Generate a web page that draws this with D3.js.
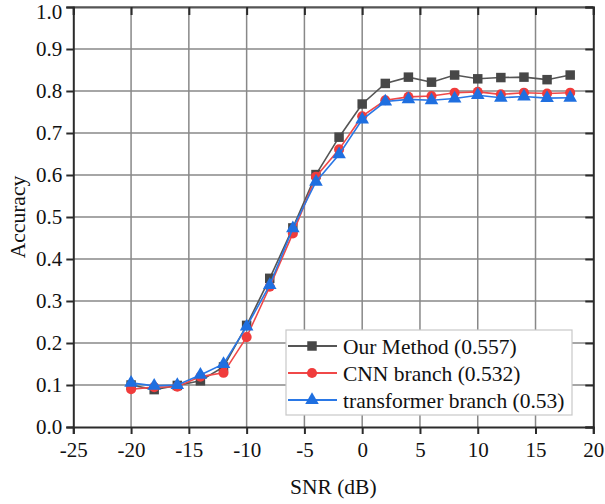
<!DOCTYPE html>
<html>
<head>
<meta charset="utf-8">
<script src="https://cdn.jsdelivr.net/npm/d3@7"></script>
<style>
  html, body { margin: 0; padding: 0; background: #fff; }
  svg { display: block; }
  text { font-family: "Liberation Serif", "Times New Roman", serif; fill: #111; }
</style>
</head>
<body>
<svg id="chart" width="605" height="504"></svg>
<script>
// SNR sweep (dB)
const snr = [-20, -18, -16, -14, -12, -10, -8, -6, -4, -2, 0, 2, 4, 6, 8, 10, 12, 14, 16, 18];

// Accuracy per SNR for each model
const ourMethod = [0.100, 0.089, 0.099, 0.110, 0.143, 0.242, 0.354, 0.474, 0.601, 0.690, 0.769, 0.818, 0.833, 0.821, 0.838, 0.829, 0.832, 0.833, 0.827, 0.838];
const cnnBranch = [0.090, 0.095, 0.096, 0.120, 0.129, 0.214, 0.334, 0.461, 0.596, 0.661, 0.740, 0.778, 0.786, 0.788, 0.796, 0.798, 0.792, 0.796, 0.794, 0.796];
const transBranch = [0.105, 0.098, 0.100, 0.124, 0.150, 0.239, 0.338, 0.473, 0.584, 0.649, 0.732, 0.775, 0.780, 0.778, 0.782, 0.790, 0.784, 0.787, 0.783, 0.784];

const seriesNames = ["Our Method (0.557)", "CNN branch (0.532)", "transformer branch (0.53)"];
const xTicks = [-25, -20, -15, -10, -5, 0, 5, 10, 15, 20];
const yTicks = [0.0, 0.1, 0.2, 0.3, 0.4, 0.5, 0.6, 0.7, 0.8, 0.9, 1.0];

const series = [
  { name: seriesNames[0], values: ourMethod, line: "#555555", fill: "#474747", shape: "square" },
  { name: seriesNames[1], values: cnnBranch, line: "#f04848", fill: "#f03c3c", shape: "circle" },
  { name: seriesNames[2], values: transBranch, line: "#2a78e6", fill: "#1f6fe0", shape: "triangle" }
];

const svg = d3.select("#chart");
const plotLeft = 73.3, plotRight = 593.3, plotTop = 7, plotBottom = 427;

const x = d3.scaleLinear().domain([-25, 20]).range([plotLeft, plotRight]);
const y = d3.scaleLinear().domain([0, 1]).range([plotBottom, plotTop]);

const fontSize = 21;
const serif = '"Liberation Serif", "Times New Roman", serif';

// grid
const grid = svg.append("g");
grid.selectAll("line.v").data(xTicks.slice(1, -1)).join("line")
  .attr("x1", d => x(d)).attr("x2", d => x(d))
  .attr("y1", plotTop).attr("y2", plotBottom)
  .attr("stroke", "#888").attr("stroke-width", 1.5);
grid.selectAll("line.h").data(yTicks.slice(1)).join("line")
  .attr("x1", plotLeft).attr("x2", plotRight)
  .attr("y1", d => y(d)).attr("y2", d => y(d))
  .attr("stroke", "#888").attr("stroke-width", 1.5);

// axes (plain hyphen for negative ticks)
const axisColor = "#2b2b2b";
const xFmt = d => String(d);
const yFmt = d => d.toFixed(1);
const xAxis = svg.append("g").attr("transform", `translate(0,${plotBottom})`)
  .call(d3.axisBottom(x).tickValues(xTicks).tickFormat(xFmt).tickSize(7).tickPadding(8));
const xAxisTop = svg.append("g").attr("transform", `translate(0,${plotTop})`)
  .call(d3.axisBottom(x).tickValues(xTicks).tickFormat("").tickSize(8));
const yAxis = svg.append("g").attr("transform", `translate(${plotLeft},0)`)
  .call(d3.axisLeft(y).tickValues(yTicks).tickFormat(yFmt).tickSize(7).tickPadding(4));
const yAxisRight = svg.append("g").attr("transform", `translate(${plotRight},0)`)
  .call(d3.axisLeft(y).tickValues(yTicks).tickFormat("").tickSize(8));

[xAxis, xAxisTop, yAxis, yAxisRight].forEach(g => {
  g.attr("font-family", serif).attr("font-size", fontSize);
  g.select(".domain").attr("stroke", axisColor).attr("stroke-width", 2);
  g.selectAll(".tick line").attr("stroke", axisColor).attr("stroke-width", 2);
  g.selectAll(".tick text").style("font-family", serif)
    .style("font-size", fontSize + "px").attr("fill", "#111");
});
xAxisTop.select(".domain").attr("stroke", "#555");
// keep the top label inside the page
yAxis.selectAll(".tick text").filter(d => d === 1).attr("dy", "0.56em");

// lines and markers
const line = d3.line().x((d, i) => x(snr[i])).y(d => y(d));
const marker = {
  square: d3.symbol().type(d3.symbolSquare).size(90),
  circle: d3.symbol().type(d3.symbolCircle).size(80),
  triangle: d3.symbol().type(d3.symbolTriangle).size(80)
};

series.forEach(s => {
  const g = svg.append("g");
  g.append("path").datum(s.values)
    .attr("d", line).attr("fill", "none")
    .attr("stroke", s.line).attr("stroke-width", 1.6);
  g.selectAll("path.m").data(s.values).join("path")
    .attr("class", "m")
    .attr("d", marker[s.shape])
    .attr("transform", (d, i) => `translate(${x(snr[i])},${y(d)})`)
    .attr("fill", s.fill);
});

// legend
const lg = svg.append("g").attr("transform", "translate(286,330)");
lg.append("rect").attr("width", 286).attr("height", 85)
  .attr("fill", "#fff").attr("stroke", "#c8c8c8").attr("stroke-width", 1.2);
series.forEach((s, i) => {
  const cy = 16 + i * 27;
  lg.append("line").attr("x1", 2).attr("x2", 51).attr("y1", cy).attr("y2", cy)
    .attr("stroke", s.line).attr("stroke-width", 1.8);
  lg.append("path").attr("d", marker[s.shape]).attr("transform", `translate(26,${cy})`)
    .attr("fill", s.fill);
  lg.append("text").attr("x", 57).attr("y", cy).attr("dy", "0.35em")
    .style("font-family", serif).style("font-size", "21.5px").text(s.name);
});

// axis titles
svg.append("text").attr("x", (plotLeft + plotRight) / 2).attr("y", 494)
  .attr("text-anchor", "middle").style("font-family", serif)
  .style("font-size", "21.5px").text("SNR (dB)");
svg.append("text").attr("transform", `translate(25,${(plotTop + plotBottom) / 2}) rotate(-90)`)
  .attr("text-anchor", "middle").style("font-family", serif)
  .style("font-size", "21.5px").text("Accuracy");
</script>
</body>
</html>
